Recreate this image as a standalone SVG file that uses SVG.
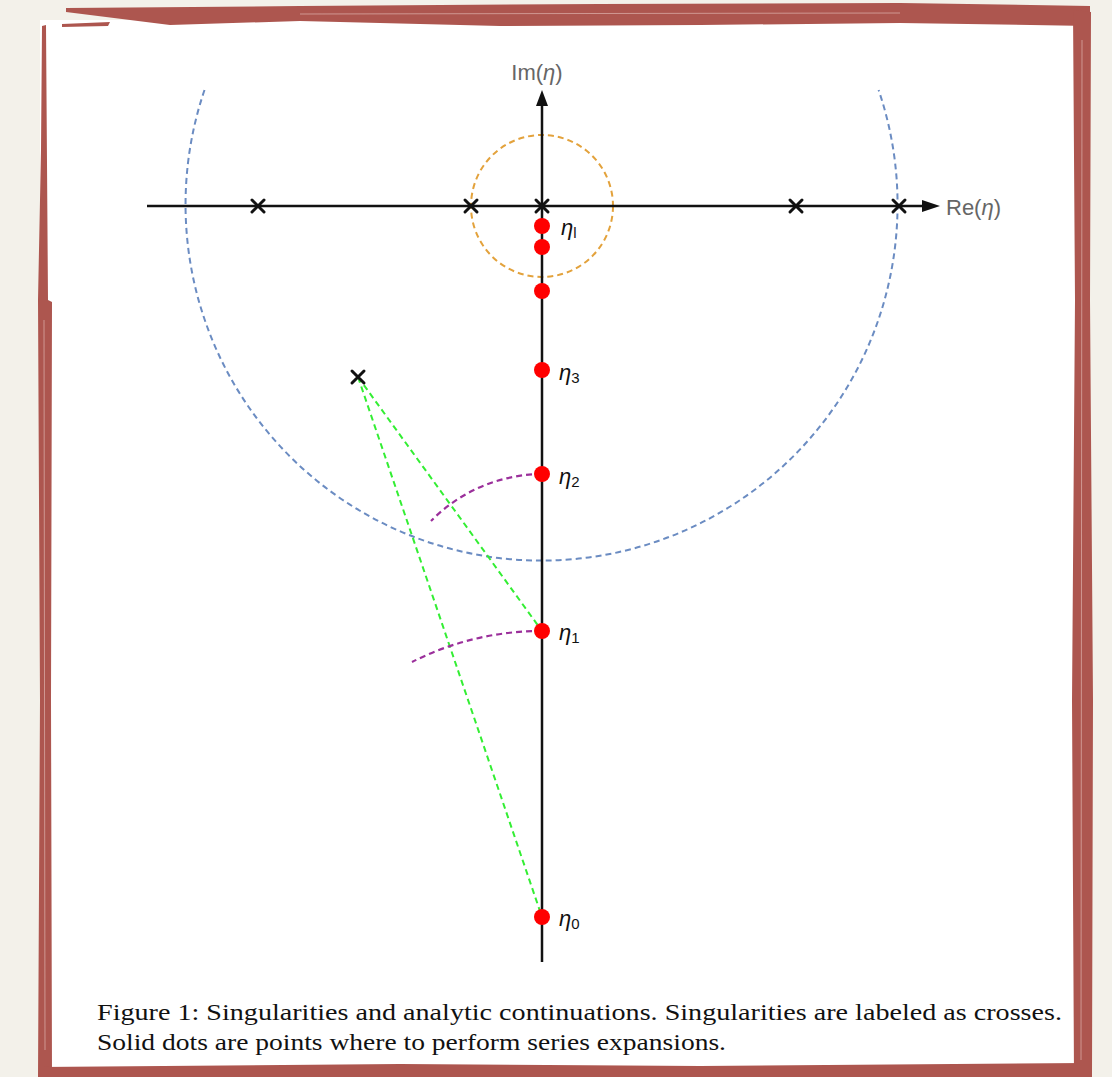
<svg xmlns="http://www.w3.org/2000/svg" width="1112" height="1077" viewBox="0 0 1112 1077">
<style>
.axis{stroke:#111;stroke-width:2.5;fill:none}
.cross{stroke:#111;stroke-width:3;stroke-linecap:round}
.dot{fill:#ff0000}
.lbl{font-family:"Liberation Sans",Arial,sans-serif;font-size:22px;font-style:italic;fill:#111}
.sub{font-size:15px;font-style:normal}
.axl{font-family:"Liberation Sans",Arial,sans-serif;font-size:22px;fill:#666}
.cap{font-family:"Liberation Serif","Times New Roman",serif;font-size:24px;fill:#111}
.brush{fill:#ad564f}
</style>
<rect x="0" y="0" width="1112" height="1077" fill="#f3f1ea"/>
<rect x="40" y="20" width="1040" height="1050" fill="#ffffff"/>
<g id="frame">
<path class="brush" d="M66,8 L300,6 L600,4 L900,3 L1090,6 L1090,26 L900,23 L700,25 L500,26 L300,21 L170,25 L66,12 Z"/>
<path class="brush" d="M62,24 L110,22 L108,26 L62,27 Z"/>
<path class="brush" d="M42,26 L46,25 L48,300 L52,302 L51,700 L52,1077 L38,1077 L40,700 L38,300 L41,150 Z"/>
<path class="brush" d="M1073,10 L1091,12 L1090,300 L1093,700 L1092,1077 L1074,1077 L1072,700 L1075,300 Z"/>
<path class="brush" d="M40,1067 L400,1064 L700,1066 L1085,1063 L1085,1077 L40,1077 Z"/>
<path d="M1082,40 L1081,1060 M44,320 L45,1050 M300,14 L900,13" stroke="#f3d9d6" stroke-width="1" fill="none" opacity="0.5"/>
</g>
<g id="connectors" fill="none">
<path d="M204.5,90 A356,356 0 1 0 878.6,90" stroke="#6b8cc2" stroke-width="2" stroke-dasharray="6,4"/>
<circle cx="542" cy="206" r="71" stroke="#e3a23c" stroke-width="2" stroke-dasharray="6,4"/>
<line x1="358" y1="377" x2="542" y2="631" stroke="#33ee33" stroke-width="2" stroke-dasharray="6,4"/>
<line x1="358" y1="377" x2="542" y2="917" stroke="#33ee33" stroke-width="2" stroke-dasharray="6,4"/>
<path d="M542,474 A157,157 0 0 0 431,521" stroke="#9b2f9b" stroke-width="2.2" stroke-dasharray="6,4"/>
<path d="M542,631 A286,286 0 0 0 412,662" stroke="#9b2f9b" stroke-width="2.2" stroke-dasharray="6,4"/>
<line class="axis" x1="542" y1="962" x2="542" y2="104"/>
<line class="axis" x1="147" y1="206" x2="924" y2="206"/>
<path d="M542,90 L536,106 L548,106 Z" fill="#111"/>
<path d="M940,206 L922,200 L922,212 Z" fill="#111"/>
</g>
<g id="crosses">
<path class="cross" d="M252,200 l12,12 M264,200 l-12,12"/>
<path class="cross" d="M465,200 l12,12 M477,200 l-12,12"/>
<path class="cross" d="M536,200 l12,12 M548,200 l-12,12"/>
<path class="cross" d="M790,200 l12,12 M802,200 l-12,12"/>
<path class="cross" d="M893,200 l12,12 M905,200 l-12,12"/>
<path class="cross" d="M352,371 l12,12 M364,371 l-12,12"/>
</g>
<g id="dots">
<circle class="dot" cx="542" cy="226" r="8"/>
<circle class="dot" cx="542" cy="247" r="8"/>
<circle class="dot" cx="542" cy="291" r="8"/>
<circle class="dot" cx="542" cy="370" r="8"/>
<circle class="dot" cx="542" cy="474" r="8"/>
<circle class="dot" cx="542" cy="631" r="8"/>
<circle class="dot" cx="542" cy="917" r="8"/>
</g>
<g id="labels">
<text class="lbl" x="561" y="235">η<tspan class="sub" dy="3" font-style="italic">l</tspan></text>
<text class="lbl" x="559" y="380">η<tspan class="sub" dy="3">3</tspan></text>
<text class="lbl" x="559" y="484">η<tspan class="sub" dy="3">2</tspan></text>
<text class="lbl" x="559" y="640">η<tspan class="sub" dy="3">1</tspan></text>
<text class="lbl" x="559" y="926">η<tspan class="sub" dy="3">0</tspan></text>
<text class="axl" x="537" y="80" text-anchor="middle">Im(<tspan font-style="italic">η</tspan>)</text>
<text class="axl" x="946" y="215">Re(<tspan font-style="italic">η</tspan>)</text>
</g>
<g id="caption">
<text class="cap" x="97" y="1020" textLength="965" lengthAdjust="spacingAndGlyphs">Figure 1:  Singularities and analytic continuations.  Singularities are labeled as crosses.</text>
<text class="cap" x="97" y="1050" textLength="629" lengthAdjust="spacingAndGlyphs">Solid dots are points where to perform series expansions.</text>
</g>
</svg>
